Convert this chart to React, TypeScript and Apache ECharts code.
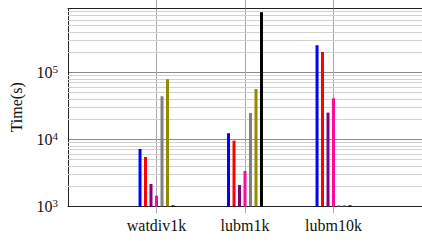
import React, { useEffect, useRef } from 'react';
import * as echarts from 'echarts';

const categories = ['watdiv1k', 'lubm1k', 'lubm10k'];
const seriesNames = ['S1', 'S2', 'S3', 'S4', 'S5', 'S6', 'S7'];
const seriesColors = ['#0000ff', '#ff0000', '#800080', '#ff0a96', '#808080', '#928a00', '#000000'];

const blueValues = [7170, 12300, 253000];
const redValues = [5440, 9550, 201000];
const purpleValues = [2150, 2080, 25000];
const pinkValues = [1440, 3370, 40900];
const grayValues = [43800, 24700, 1035];
const oliveValues = [78700, 56400, 1035];
const blackValues = [1035, 787000, 1035];

const yMin = 1000;
const yMax = 900000;
const minorGridValues = [
  2000, 3000, 4000, 5000, 6000, 7000, 8000, 9000,
  20000, 30000, 40000, 50000, 60000, 70000, 80000, 90000,
  200000, 300000, 400000, 500000, 600000, 700000, 800000,
];

const FONT = 'Liberation Serif';

export default function App() {
  const ref = useRef<HTMLDivElement>(null);

  useEffect(() => {
    if (!ref.current) return;
    const chart = echarts.init(ref.current, undefined, { renderer: 'svg' });
    const axisCats = ['', ...categories, ' '];
    const isReal = (_i: number, v: string) => String(v).trim() !== '';
    const allValues = [blueValues, redValues, purpleValues, pinkValues, grayValues, oliveValues, blackValues];

    const barSeries = allValues.map((vals, i) => ({
      name: seriesNames[i],
      type: 'bar',
      xAxisIndex: 0,
      yAxisIndex: 0,
      data: [null, ...vals, null],
      barWidth: 3,
      barGap: '83%',
      clip: true,
      z: 3,
      itemStyle: { color: seriesColors[i] },
    }));

    chart.setOption({
      animation: false,
      textStyle: { fontFamily: FONT },
      grid: { left: 67.5, top: 8.3, width: 357.2, height: 198 },
      xAxis: [
        {
          type: 'category',
          data: axisCats,
          boundaryGap: false,
          position: 'bottom',
          axisLine: { show: true, lineStyle: { color: '#222', width: 1 } },
          axisTick: { show: true, inside: false, length: 7, interval: isReal, lineStyle: { color: '#a8a8a8' } },
          axisLabel: { show: true, interval: isReal, margin: 11, fontSize: 16, color: '#111', fontFamily: FONT },
          splitLine: { show: true, interval: isReal, lineStyle: { color: '#a8a8a8', width: 1 } },
        },
        {
          type: 'category',
          data: axisCats,
          boundaryGap: false,
          position: 'top',
          axisLine: { show: true, lineStyle: { color: '#222', width: 1 } },
          axisTick: { show: true, inside: false, length: 9, interval: isReal, lineStyle: { color: '#a8a8a8' } },
          axisLabel: { show: false },
          splitLine: { show: false },
        },
      ],
      yAxis: {
        type: 'log',
        logBase: 10,
        min: yMin,
        max: yMax,
        name: 'Time(s)',
        nameLocation: 'middle',
        nameGap: 44,
        nameRotate: 90,
        nameTextStyle: { fontSize: 16, color: '#111', fontFamily: FONT },
        axisLine: { show: true, lineStyle: { color: '#222', width: 1 } },
        axisTick: { show: false },
        axisLabel: {
          margin: 10,
          showMaxLabel: false,
          fontFamily: FONT,
          formatter: (v: number) => {
            const l = Math.log10(v);
            const e = Math.round(l);
            if (Math.abs(l - e) > 1e-6) return '';
            return `{b|10}{s|${e}}`;
          },
          rich: {
            b: { fontSize: 16, lineHeight: 18, color: '#111', fontFamily: FONT },
            s: { fontSize: 11, lineHeight: 11, verticalAlign: 'top', color: '#111', fontFamily: FONT },
          },
        },
        splitLine: { show: true, lineStyle: { color: '#8c8c8c', width: 1 } },
      },
      series: [
        {
          name: 'minor-grid',
          type: 'line',
          xAxisIndex: 0,
          yAxisIndex: 0,
          data: [null, null, null, null, null],
          showSymbol: false,
          silent: true,
          z: 1,
          markLine: {
            silent: true,
            z: 1,
            symbol: ['none', 'none'],
            label: { show: false },
            lineStyle: { color: '#d2d2d2', type: 'solid', width: 1 },
            emphasis: { disabled: true },
            data: minorGridValues.map((v) => ({ yAxis: v })),
          },
        },
        ...barSeries,
      ],
    });
    return () => chart.dispose();
  }, []);

  return (
    <div
      ref={ref}
      style={{ position: 'fixed', left: 0, top: 0, width: 422, height: 241, background: '#fff' }}
    />
  );
}
